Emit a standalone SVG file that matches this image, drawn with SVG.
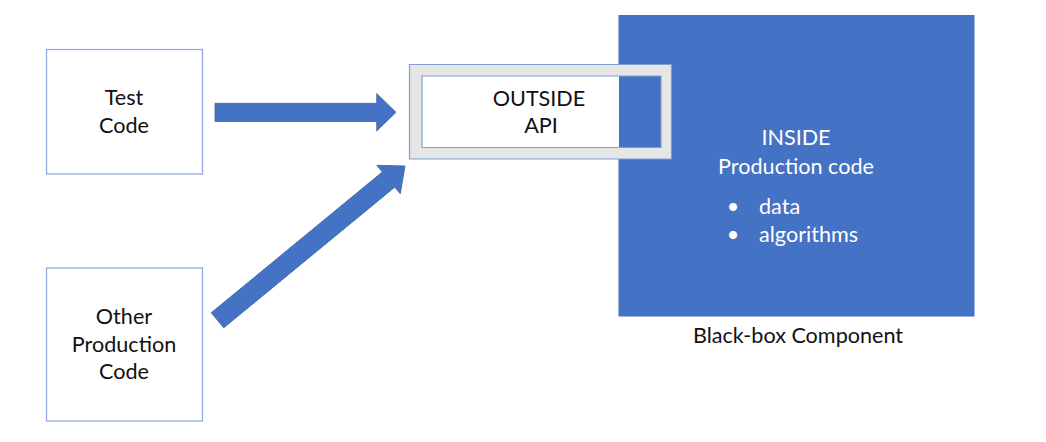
<svg xmlns="http://www.w3.org/2000/svg" width="1046" height="442" viewBox="0 0 1046 442">
  <style>
    .box { fill: #ffffff; stroke: #8faadc; stroke-width: 1.3; }
    .lbl { font-family: Lato, "Open Sans", "Liberation Sans", sans-serif; font-size: 21.6px; fill: #111111; text-anchor: middle; }
    .wlbl { font-family: Lato, "Open Sans", "Liberation Sans", sans-serif; font-size: 21.6px; fill: #ffffff; }
    .arrow { fill: #4472c4; stroke: #41689f; stroke-width: 0.8; }
  </style>
  <rect width="1046" height="442" fill="#ffffff"/>

  <g id="blackbox">
    <rect x="619" y="15.5" width="355" height="300.5" fill="#4472c4" stroke="#4a6fb5" stroke-width="1"/>
    <text class="wlbl" x="796" y="145" text-anchor="middle">INSIDE</text>
    <text class="wlbl" x="796" y="173.5" text-anchor="middle">Production code</text>
    <text class="wlbl" x="733" y="213.5" text-anchor="middle" font-size="18">•</text>
    <text class="wlbl" x="759" y="213.5">data</text>
    <text class="wlbl" x="733" y="241.5" text-anchor="middle" font-size="18">•</text>
    <text class="wlbl" x="759" y="241.5">algorithms</text>
    <text class="lbl" x="798" y="342.5">Black-box Component</text>
  </g>

  <g id="outside-api">
    <rect x="422" y="76" width="197" height="71.5" fill="#ffffff"/>
    <path d="M409.5,64.5 H671.5 V159 H409.5 Z M422,76 V147.5 H661 V76 Z" fill="#e7e6e6" fill-rule="evenodd" stroke="#7f9fd4" stroke-width="1.2"/>
    <text class="lbl" x="539" y="105.5">OUTSIDE</text>
    <text class="lbl" x="541" y="133">API</text>
  </g>

  <g id="test-code">
    <rect class="box" x="46.5" y="49.5" width="156" height="124.5"/>
    <text class="lbl" x="124" y="105">Test</text>
    <text class="lbl" x="124" y="133">Code</text>
  </g>

  <g id="other-production-code">
    <rect class="box" x="46.5" y="268" width="156" height="153"/>
    <text class="lbl" x="124" y="323.5">Other</text>
    <text class="lbl" x="124" y="351.5">Production</text>
    <text class="lbl" x="124" y="379">Code</text>
  </g>

  <g id="connectors">
    <path class="arrow" d="M215,103.3 H376.7 V93.5 L396,112.3 L376.7,131 V121.5 H215 Z"/>
    <path class="arrow" transform="translate(217.5,320.3) rotate(-39.45)" d="M0,-9.8 H221.5 V-18.5 L242.8,0 L221.5,18.5 V9.8 H0 Z"/>
  </g>
</svg>
